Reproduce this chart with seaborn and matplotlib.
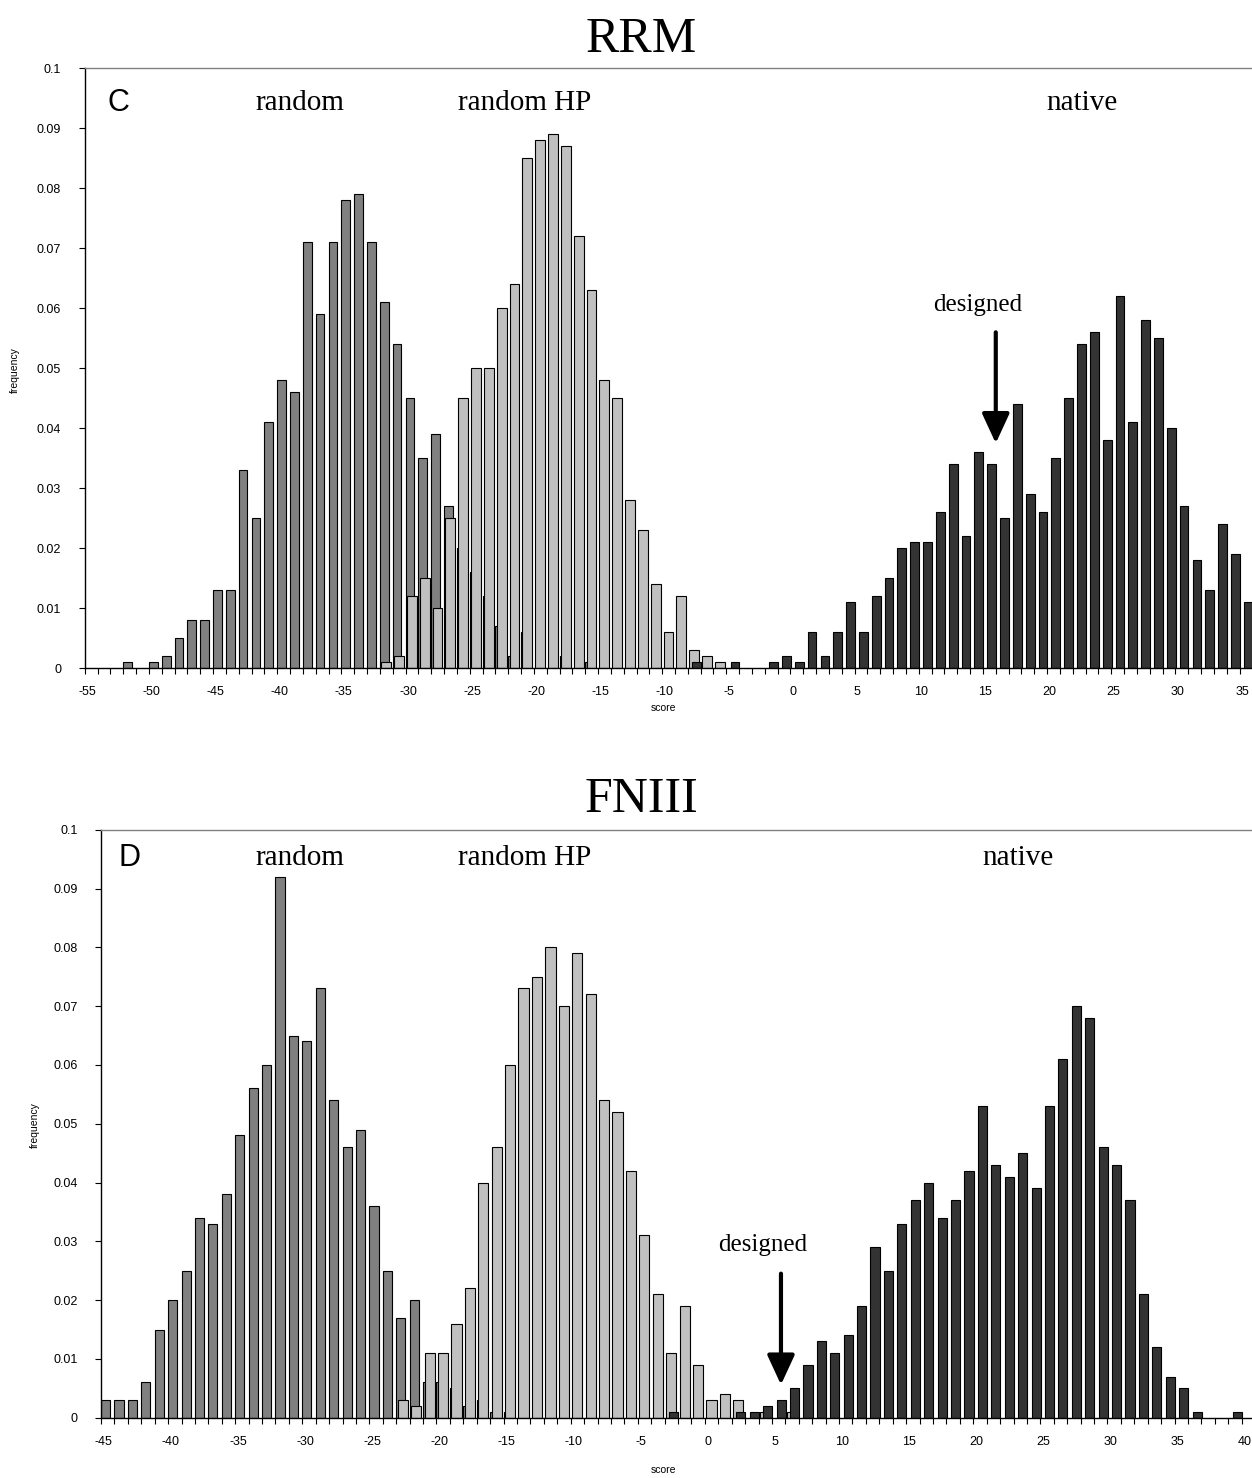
import numpy as np
import pandas as pd
import matplotlib
matplotlib.use("Agg")
import matplotlib.pyplot as plt
import matplotlib.transforms as mtransforms
import seaborn as sns

# ---------------- data ----------------
# Panel C (RRM)
rrm_random_scores = list(range(-52, -15))
rrm_random = [0.001, 0, 0.001, 0.002, 0.005, 0.008, 0.008, 0.013, 0.013, 0.033,
              0.025, 0.041, 0.048, 0.046, 0.071, 0.059, 0.071, 0.078, 0.079, 0.071,
              0.061, 0.054, 0.045, 0.035, 0.039, 0.027, 0.020, 0.016, 0.012, 0.007,
              0.002, 0.006, 0, 0, 0.002, 0, 0.001]
rrm_hp_scores = list(range(-32, -5))
rrm_hp = [0.001, 0.002, 0.012, 0.015, 0.010, 0.025, 0.045, 0.050, 0.050, 0.060,
          0.064, 0.085, 0.088, 0.089, 0.087, 0.072, 0.063, 0.048, 0.045, 0.028,
          0.023, 0.014, 0.006, 0.012, 0.003, 0.002, 0.001]
rrm_native_scores = list(range(-8, 36))
rrm_native = [0.001, 0, 0, 0.001, 0, 0, 0.001, 0.002, 0.001, 0.006,
              0.002, 0.006, 0.011, 0.006, 0.012, 0.015, 0.020, 0.021, 0.021, 0.026,
              0.034, 0.022, 0.036, 0.034, 0.025, 0.044, 0.029, 0.026, 0.035, 0.045,
              0.054, 0.056, 0.038, 0.062, 0.041, 0.058, 0.055, 0.040, 0.027, 0.018,
              0.013, 0.024, 0.019, 0.011]
rrm_xtick_values = [-55, -50, -45, -40, -35, -30, -25, -20, -15, -10, -5, 0, 5, 10, 15, 20, 25, 30, 35]
rrm_xtick_labels = ["-55", "-50", "-45", "-40", "-35", "-30", "-25", "-20", "-15", "-10",
                    "-5", "0", "5", "10", "15", "20", "25", "30", "35"]

# Panel D (FNIII)
fn_random_scores = list(range(-45, -14))
fn_random = [0.003, 0.003, 0.003, 0.006, 0.015, 0.020, 0.025, 0.034, 0.033, 0.038,
             0.048, 0.056, 0.060, 0.092, 0.065, 0.064, 0.073, 0.054, 0.046, 0.049,
             0.036, 0.025, 0.017, 0.020, 0.006, 0.006, 0.005, 0.002, 0.003, 0.001,
             0.001]
fn_hp_scores = list(range(-23, 7))
fn_hp = [0.003, 0.002, 0.011, 0.011, 0.016, 0.022, 0.040, 0.046, 0.060, 0.073,
         0.075, 0.080, 0.070, 0.079, 0.072, 0.054, 0.052, 0.042, 0.031, 0.021,
         0.011, 0.019, 0.009, 0.003, 0.004, 0.003, 0, 0.001, 0, 0.001]
fn_native_scores = list(range(-3, 40))
fn_native = [0.001, 0, 0, 0, 0, 0.001, 0.001, 0.002, 0.003, 0.005,
             0.009, 0.013, 0.011, 0.014, 0.019, 0.029, 0.025, 0.033, 0.037, 0.040,
             0.034, 0.037, 0.042, 0.053, 0.043, 0.041, 0.045, 0.039, 0.053, 0.061,
             0.070, 0.068, 0.046, 0.043, 0.037, 0.021, 0.012, 0.007, 0.005, 0.001,
             0, 0, 0.001]
fn_xtick_values = [-45, -40, -35, -30, -25, -20, -15, -10, -5, 0, 5, 10, 15, 20, 25, 30, 35, 40]
fn_xtick_labels = ["-45", "-40", "-35", "-30", "-25", "-20", "-15", "-10", "-5", "0",
                   "5", "10", "15", "20", "25", "30", "35", "40"]

ytick_values = [0, 0.01, 0.02, 0.03, 0.04, 0.05, 0.06, 0.07, 0.08, 0.09, 0.1]
ytick_labels = ["0", "0.01", "0.02", "0.03", "0.04", "0.05", "0.06", "0.07", "0.08", "0.09", "0.1"]

series_names = ["random", "random HP", "native"]

# ---------------- style ----------------
sns.set_style("white")
plt.rcParams["font.family"] = ["Liberation Sans", "DejaVu Sans"]
plt.rcParams["text.color"] = "black"
plt.rcParams["axes.labelcolor"] = "black"
plt.rcParams["xtick.color"] = "black"
plt.rcParams["ytick.color"] = "black"
plt.rcParams["xtick.labelcolor"] = "black"
plt.rcParams["ytick.labelcolor"] = "black"

COL_RANDOM = "#808080"
COL_HP = "#c0c0c0"
COL_NATIVE = "#333333"
SERIF = ["Liberation Serif", "DejaVu Serif"]

W, H = 1252, 1478
fig = plt.figure(figsize=(W / 100, H / 100), dpi=100)


def draw_series(ax, scores, values, offset, width, color):
    df = pd.DataFrame({"score": scores, "freq": values})
    df = df[df["freq"] > 0].copy()
    df["pos"] = df["score"] + offset
    sns.barplot(data=df, x="pos", y="freq", native_scale=True, width=width,
                color=color, saturation=1, edgecolor="black", linewidth=0.8,
                errorbar=None, ax=ax)


def style_axis(ax, xlim, xt_vals, xt_labels):
    ax.set_xlim(*xlim)
    ax.set_ylim(0, 0.1)
    ax.set_yticks(ytick_values)
    ax.set_yticklabels(ytick_labels)
    ax.set_xticks(xt_vals)
    ax.set_xticklabels(xt_labels)
    ax.set_xticks(np.arange(np.floor(xlim[0]) + 0.5, xlim[1], 1.0), minor=True)
    ax.tick_params(axis="x", which="major", length=0, pad=13, labelsize=9,
                   labelcolor="black")
    ax.tick_params(axis="x", which="minor", length=4, width=0.8, direction="out",
                   color="black", bottom=True)
    ax.tick_params(axis="y", which="major", length=4, width=0.8, direction="out",
                   color="black", pad=13, labelsize=9, left=True, labelcolor="black")
    shift = mtransforms.ScaledTranslation(-4 / 100, 0, fig.dpi_scale_trans)
    for lab in ax.get_xticklabels():
        lab.set_transform(lab.get_transform() + shift)
    ax.set_xlabel("")
    ax.set_ylabel("")
    for s in ["left", "bottom"]:
        ax.spines[s].set_color("black")
        ax.spines[s].set_linewidth(1.0)
    ax.spines["top"].set_color("#808080")
    ax.spines["top"].set_linewidth(1.0)
    ax.spines["right"].set_visible(False)
    ax.grid(False)


ARROW = dict(arrowstyle="-|>,head_width=0.6,head_length=1.3", lw=3, color="black",
             mutation_scale=14, shrinkA=0, shrinkB=0)

# ---------------- panel C ----------------
ax1 = fig.add_axes([84.8 / W, (H - 668.3) / H, (W - 84.8) / W, 600 / H])
draw_series(ax1, rrm_random_scores, rrm_random, -0.16, 0.68, COL_RANDOM)
draw_series(ax1, rrm_hp_scores, rrm_hp, -0.01, 0.76, COL_HP)
draw_series(ax1, rrm_native_scores, rrm_native, 0.18, 0.68, COL_NATIVE)
style_axis(ax1, (-55.5, 35.47), rrm_xtick_values, rrm_xtick_labels)

ax1.text(-53.7, 0.0942, "C", fontsize=22, ha="left", va="center", family=["Liberation Sans"])
ax1.text(-38.7, 0.0942, series_names[0], fontsize=21, ha="center", va="center", family=SERIF)
ax1.text(-21.2, 0.0942, series_names[1], fontsize=21, ha="center", va="center", family=SERIF)
ax1.text(22.2, 0.0942, series_names[2], fontsize=21, ha="center", va="center", family=SERIF)
ax1.text(14.1, 0.0606, "designed", fontsize=18, ha="center", va="center", family=SERIF)
ax1.annotate("", xy=(15.5, 0.0375), xytext=(15.5, 0.0560), arrowprops=ARROW)

fig.text(641 / W, 1 - 40 / H, "RRM", fontsize=36, ha="center", va="center", family=SERIF)
fig.text(663 / W, 1 - 708 / H, "score", fontsize=7.5, ha="center", va="center")
fig.text(15 / W, 1 - 370 / H, "frequency", fontsize=7.5, ha="center", va="center", rotation=90)

# ---------------- panel D ----------------
ax2 = fig.add_axes([101 / W, (H - 1417.7) / H, (W - 101) / W, 588 / H])
draw_series(ax2, fn_random_scores, fn_random, -0.16, 0.68, COL_RANDOM)
draw_series(ax2, fn_hp_scores, fn_hp, -0.01, 0.76, COL_HP)
draw_series(ax2, fn_native_scores, fn_native, 0.18, 0.68, COL_NATIVE)
style_axis(ax2, (-45.5, 40.27), fn_xtick_values, fn_xtick_labels)

ax2.text(-44.2, 0.0952, "D", fontsize=22, ha="left", va="center", family=["Liberation Sans"])
ax2.text(-30.7, 0.0952, series_names[0], fontsize=21, ha="center", va="center", family=SERIF)
ax2.text(-13.9, 0.0952, series_names[1], fontsize=21, ha="center", va="center", family=SERIF)
ax2.text(22.8, 0.0952, series_names[2], fontsize=21, ha="center", va="center", family=SERIF)
ax2.text(3.83, 0.0294, "designed", fontsize=18, ha="center", va="center", family=SERIF)
ax2.annotate("", xy=(5.17, 0.0056), xytext=(5.17, 0.0245), arrowprops=ARROW)

fig.text(641 / W, 1 - 800 / H, "FNIII", fontsize=36, ha="center", va="center", family=SERIF)
fig.text(663 / W, 1 - 1470 / H, "score", fontsize=7.5, ha="center", va="center")
fig.text(35 / W, 1 - 1125 / H, "frequency", fontsize=7.5, ha="center", va="center", rotation=90)

fig.savefig("out.png", dpi=100, facecolor="white")
